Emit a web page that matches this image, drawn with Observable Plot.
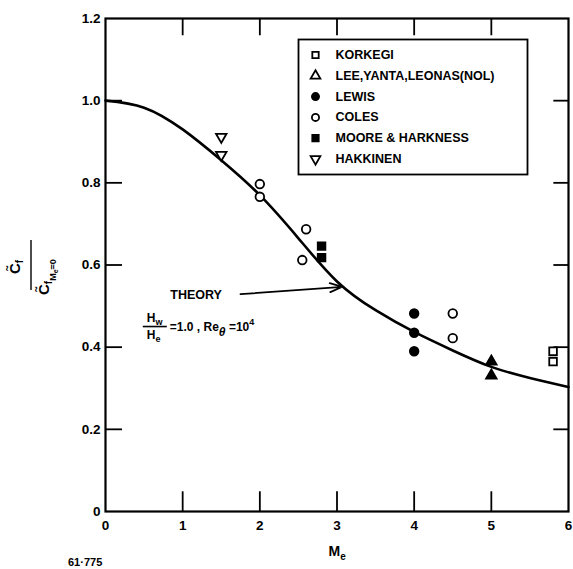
<!DOCTYPE html>
<html><head><meta charset="utf-8">
<script src="https://cdn.jsdelivr.net/npm/d3@7"></script>
<script src="https://cdn.jsdelivr.net/npm/@observablehq/plot@0.6"></script>
<style>body{margin:0;background:#fff}svg{display:block}</style>
</head><body><div id="chart"></div>
<script>
// ---- data ----
const xTicks = [0, 1, 2, 3, 4, 5, 6];
const yTicks = [0, 0.2, 0.4, 0.6, 0.8, 1.0, 1.2];
const xInnerTicks = [1, 2, 3, 4, 5];
const yInnerTicks = [0.2, 0.4, 0.6, 0.8, 1.0];

const theoryM = [0, 0.5, 1.0, 1.5, 2.0, 2.5, 3.0, 3.5, 4.0, 4.5, 5.0, 5.5, 6.0];
const theoryV = [1.0, 0.983, 0.93, 0.855, 0.77, 0.665, 0.56, 0.49, 0.437, 0.392, 0.352, 0.325, 0.303];

const korkegiM = [5.8, 5.8];        const korkegiV = [0.39, 0.365];
const leeM = [5.0, 5.0];            const leeV = [0.365, 0.331];
const lewisM = [4.0, 4.0, 4.0];     const lewisV = [0.482, 0.435, 0.39];
const colesM = [2.0, 2.0, 2.6, 2.55, 4.5, 4.5];
const colesV = [0.797, 0.766, 0.687, 0.612, 0.482, 0.422];
const mooreM = [2.8, 2.8];          const mooreV = [0.646, 0.618];
const hakkinenM = [1.5, 1.5];       const hakkinenV = [0.912, 0.868];

const seriesNames = ["KORKEGI", "LEE,YANTA,LEONAS(NOL)", "LEWIS", "COLES", "MOORE & HARKNESS", "HAKKINEN"];
const seriesSymbols = ["square", "triangle", "circle", "circle", "square", "triangle"];
const seriesFilledPlot = [false, true, true, false, true, false];
const seriesFilledLegend = [false, false, true, false, true, false];
const seriesRotate = [0, 0, 0, 0, 0, 180];

// annotation anchors (data units)
const theoryLabelAt = [{M: 0.84, v: 0.527}];
const theoryArrow = [{M1: 1.75, v1: 0.529, M2: 3.07, v2: 0.547}];
const formulaAt = [{M: 0.49, v: 0.449}];

// ---- build tables ----
const seriesM = [korkegiM, leeM, lewisM, colesM, mooreM, hakkinenM];
const seriesV = [korkegiV, leeV, lewisV, colesV, mooreV, hakkinenV];
const points = [];
seriesM.forEach((ms, s) => ms.forEach((m, i) => points.push({
  s, M: m, v: seriesV[s][i]
})));
const theory = theoryM.map((m, i) => ({M: m, v: theoryV[i]}));

const W = 573, H = 569;
const mL = 105, mR = 5, mT = 18, mB = 58;

const dotMarks = [];
seriesNames.forEach((name, s) => {
  const pts = points.filter(p => p.s === s);
  const r = seriesSymbols[s] === "triangle" ? 3.9 : (seriesSymbols[s] === "square" ? 4.3 : 4.3);
  dotMarks.push(Plot.dot(pts, {
    x: "M", y: "v", symbol: seriesSymbols[s], r, rotate: seriesRotate[s],
    fill: seriesFilledPlot[s] ? "black" : "white",
    stroke: "black", strokeWidth: 1.8
  }));
});

// legend (inside frame)
const legX = 298, legY = 39, legR = 527, legB = 174;
const legendMarks = [
  Plot.frame({stroke: "black", strokeWidth: 1.8, fill: "white",
    insetLeft: legX - mL, insetTop: legY - mT, insetRight: (W - mR) - legR, insetBottom: (H - mB) - legB})
];
seriesNames.forEach((name, s) => {
  const dy = 54.5 - mT + 20.8 * s;
  legendMarks.push(Plot.dot([name], {
    frameAnchor: "top-left", dx: 315 - mL, dy, symbol: seriesSymbols[s], r: 3.6, rotate: seriesRotate[s],
    fill: seriesFilledLegend[s] ? "black" : "white", stroke: "black", strokeWidth: 1.8
  }));
  legendMarks.push(Plot.text([name], {
    text: d => d, frameAnchor: "top-left", dx: 335 - mL, dy, textAnchor: "start", lineAnchor: "middle",
    fontSize: 12.5, fontWeight: "bold", style: "letter-spacing:0.6px"
  }));
});

const plot = Plot.plot({
  width: W, height: H,
  marginLeft: mL, marginRight: mR, marginTop: mT, marginBottom: mB,
  x: {domain: [0, 6]},
  y: {domain: [0, 1.2]},
  style: {fontFamily: "'Liberation Sans', Arial, sans-serif", fontSize: "13.5px", fontWeight: "bold", color: "black", background: "white"},
  marks: [
    Plot.axisX({ticks: xTicks, tickSize: 0, tickPadding: 9, label: null, tickFormat: d => String(d), fontSize: 13.5}),
    Plot.axisY({ticks: yTicks, tickSize: 0, tickPadding: 5, label: null, tickFormat: d => d === 0 ? "0" : d.toFixed(1), fontSize: 13.5}),
    // inward ticks on all four sides
    Plot.ruleX(xInnerTicks, {x: d => d, y1: 0, y2: 0.048, stroke: "black", strokeWidth: 1.8}),
    Plot.ruleX(xInnerTicks, {x: d => d, y1: 1.2, y2: 1.2 - 0.042, stroke: "black", strokeWidth: 1.8}),
    Plot.ruleY(yInnerTicks, {y: d => d, x1: 0, x2: 0.22, stroke: "black", strokeWidth: 1.8}),
    Plot.ruleY(yInnerTicks, {y: d => d, x1: 6, x2: 6 - 0.19, stroke: "black", strokeWidth: 1.8}),
    Plot.frame({stroke: "black", strokeWidth: 2.2}),
    Plot.line(theory, {x: "M", y: "v", curve: "natural", stroke: "black", strokeWidth: 2.6}),
    ...dotMarks,
    ...legendMarks,
    Plot.arrow(theoryArrow, {x1: "M1", y1: "v1", x2: "M2", y2: "v2", stroke: "black", strokeWidth: 1.8, headLength: 11, headAngle: 40}),
    Plot.text(theoryLabelAt, {x: "M", y: "v", text: () => "THEORY", textAnchor: "start", lineAnchor: "middle", fontSize: 12.5, fontWeight: "bold", style: "letter-spacing:0.6px"})
  ]
});

document.getElementById("chart").appendChild(plot);

// ---- extra typeset labels placed through the plot's scales ----
const sx = plot.scale("x"), sy = plot.scale("y");
const svg = d3.select(plot);
const ff = "'Liberation Sans', Arial, sans-serif";

// formula  Hw/He = 1.0, Re_theta = 10^4
{
  const fx = sx.apply(formulaAt[0].M), fy = sy.apply(formulaAt[0].v);
  const g = svg.append("g").attr("transform", `translate(${fx},${fy})`)
    .attr("font-family", ff).attr("font-weight", "bold").attr("fill", "black").attr("text-anchor", "start");
  g.append("line").attr("x1", 0).attr("x2", 24).attr("y1", 0).attr("y2", 0).attr("stroke", "black").attr("stroke-width", 1.6);
  const num = g.append("text").attr("x", 4).attr("y", -5).attr("font-size", 12);
  num.append("tspan").text("H");
  num.append("tspan").attr("dy", 3).attr("font-size", 9).text("w");
  const den = g.append("text").attr("x", 4).attr("y", 12).attr("font-size", 12);
  den.append("tspan").text("H");
  den.append("tspan").attr("dy", 3).attr("font-size", 9).text("e");
  const rest = g.append("text").attr("x", 27).attr("y", 4).attr("font-size", 12);
  rest.append("tspan").text("=1.0 , Re");
  rest.append("tspan").attr("dy", 5).attr("font-size", 12).attr("font-style", "italic").text("θ");
  rest.append("tspan").attr("dy", -5).text(" =10");
  rest.append("tspan").attr("dy", -6).attr("font-size", 9).text("4");
}

// y-axis label (rotated fraction)
{
  const g = svg.append("g").attr("transform", "translate(31,265) rotate(-90)")
    .attr("font-family", ff).attr("font-weight", "bold").attr("fill", "black").attr("text-anchor", "start");
  g.append("line").attr("x1", -25).attr("x2", 25).attr("y1", 0).attr("y2", 0).attr("stroke", "black").attr("stroke-width", 1.4);
  const num = g.append("text").attr("x", -9).attr("y", -11).attr("font-size", 15);
  num.append("tspan").text("C\u0303");
  num.append("tspan").attr("dy", 3).attr("font-size", 10).text("f");
  const den = g.append("text").attr("x", -30).attr("y", 18).attr("font-size", 15);
  den.append("tspan").text("C\u0303");
  den.append("tspan").attr("dy", 3).attr("font-size", 10).text("f");
  den.append("tspan").attr("dy", 4).attr("font-size", 9).text("M");
  den.append("tspan").attr("dy", 2).attr("font-size", 7).text("e");
  den.append("tspan").attr("dy", -2).attr("font-size", 9).text("=0");
}

// x-axis label M_e
{
  const t = svg.append("text").attr("x", sx.apply(3) - 8).attr("y", 556).attr("text-anchor", "start")
    .attr("font-family", ff).attr("font-weight", "bold").attr("font-size", 14).attr("fill", "black");
  t.append("tspan").text("M");
  t.append("tspan").attr("dy", 4).attr("font-size", 10).text("e");
}

// figure number
svg.append("text").attr("x", 68).attr("y", 566).attr("text-anchor", "start")
  .attr("font-family", ff).attr("font-weight", "bold").attr("font-size", 11).attr("fill", "black")
  .text("61·775");
</script>
</body></html>
